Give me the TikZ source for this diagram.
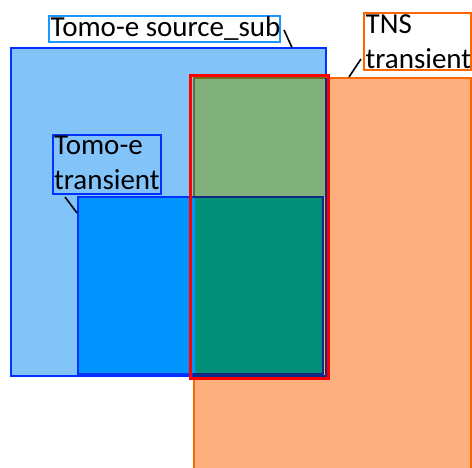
\documentclass[tikz,border=0pt]{standalone}
\usepackage{fontspec}
\setmainfont{Carlito}
\definecolor{lb}{RGB}{130,196,250}
\definecolor{bb}{RGB}{0,51,255}
\definecolor{bf}{RGB}{0,148,255}
\definecolor{gr}{RGB}{128,176,124}
\definecolor{tl}{RGB}{0,144,122}
\definecolor{of}{RGB}{253,176,126}
\definecolor{ol}{RGB}{255,102,0}
\definecolor{nv}{RGB}{20,40,130}
\definecolor{olv}{RGB}{110,110,30}
\definecolor{sky}{RGB}{30,150,255}
\definecolor{rd}{RGB}{255,0,0}
\begin{document}
\begin{tikzpicture}[x=1pt,y=-1pt,
  area/.style={rectangle, anchor=north west, inner sep=0pt, outer sep=0pt, line width=2pt},
  lbl/.style={rectangle, anchor=north west, inner sep=0pt, outer sep=0pt, line width=2pt, fill=white},
  txt/.style={anchor=base west, inner sep=0pt, font=\fontsize{29}{35}\selectfont},
  leader/.style={line width=1.6pt, black}]
\useasboundingbox (0,0) rectangle (472,468);
% main areas
\node[area, fill=lb, draw=bb, minimum width=315pt, minimum height=327.5pt] (src) at (11,48.5) {};
\node[area, fill=of, draw=ol, minimum width=277.5pt, minimum height=400pt] (tns) at (193.5,78) {};
\draw[olv, line width=2pt] (193.5,78) -- (193.5,376) (193.5,78) -- (326,78);
\fill[gr] (194.5,79) rectangle (325,197);
\node[area, fill=bf, draw=bb, minimum width=245pt, minimum height=176.5pt] (tomo) at (78,197.5) {};
\fill[tl] (194.5,198.5) rectangle (322,373);
\draw[nv, line width=2pt] (326,78) -- (326,377) (193,376) -- (327,376)
  (193,197.5) -- (323,197.5) (323,197.5) -- (323,374) (193,374) -- (323,374);
\node[area, draw=rd, line width=3pt, minimum width=138pt, minimum height=303pt] (sel) at (190.5,75.5) {};
% labels
\node[lbl, draw=sky, minimum width=230.5pt, minimum height=26pt] (lab1) at (49,16) {};
\node[txt] (t1) at (50.5,37) {Tomo-e source\_sub};
\coordinate (e1) at (292,47.5);
\draw[leader] ([xshift=4.5pt,yshift=-1pt]lab1.east) -- (e1);
\node[lbl, draw=ol, minimum width=106.5pt, minimum height=57.5pt] (lab2) at (364,13) {};
\node[txt] (t2a) at (365.5,33.3) {TNS};
\node[txt] (t2b) at (365.5,68.3) {transient};
\coordinate (e2) at (349,77);
\draw[leader] (361,59) -- (e2);
\node[lbl, draw=bb, fill=none, minimum width=108pt, minimum height=59pt] (lab3) at (53,135) {};
\node[txt] (t3a) at (54,155) {Tomo-e};
\node[txt] (t3b) at (54,190) {transient};
\coordinate (e3) at (77,213);
\draw[leader] (65,197) -- (e3);
\end{tikzpicture}
\end{document}
